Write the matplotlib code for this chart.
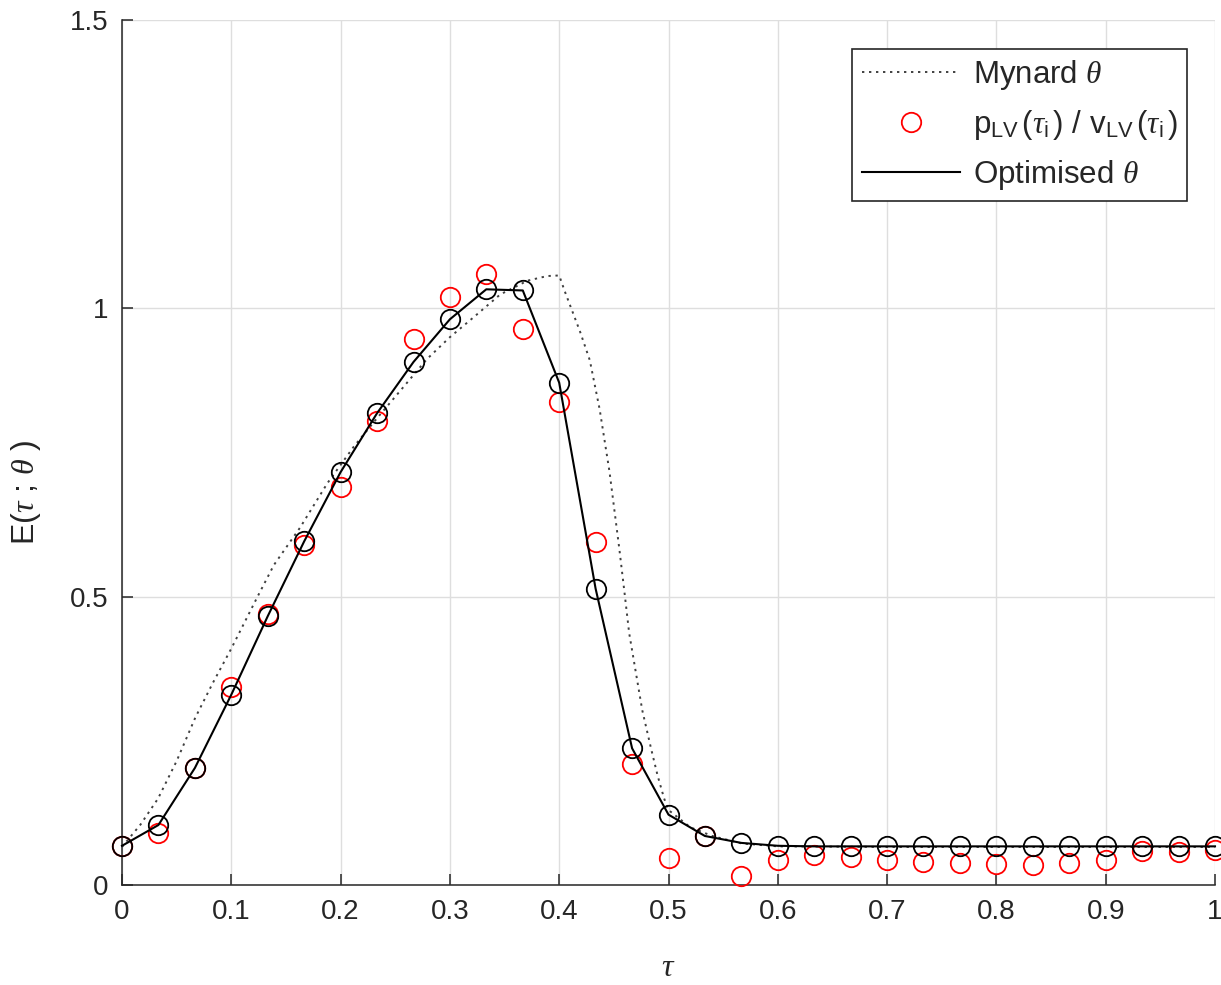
import matplotlib
matplotlib.use("Agg")
import matplotlib.pyplot as plt

plt.rcParams['font.family'] = ['Liberation Sans', 'DejaVu Sans']
plt.rcParams['mathtext.fontset'] = 'custom'
plt.rcParams['mathtext.rm'] = 'Liberation Sans'
plt.rcParams['mathtext.it'] = 'Liberation Serif:italic'
plt.rcParams['mathtext.bf'] = 'Liberation Sans:bold'

# ---- data ----
tau_i = [0.0, 0.0333, 0.0667, 0.1, 0.1333, 0.1667, 0.2, 0.2333, 0.2667, 0.3,
         0.3333, 0.3667, 0.4, 0.4333, 0.4667, 0.5, 0.5333, 0.5667, 0.6, 0.6333,
         0.6667, 0.7, 0.7333, 0.7667, 0.8, 0.8333, 0.8667, 0.9, 0.9333, 0.9667, 1.0]

optimised = [0.068, 0.104, 0.203, 0.330, 0.466, 0.596, 0.716, 0.818, 0.907, 0.981,
             1.033, 1.031, 0.871, 0.514, 0.237, 0.122, 0.085, 0.073, 0.068, 0.067,
             0.067, 0.067, 0.067, 0.067, 0.067, 0.067, 0.067, 0.067, 0.067, 0.067, 0.067]

p_over_v = [0.068, 0.090, 0.203, 0.344, 0.470, 0.589, 0.690, 0.805, 0.946, 1.020,
            1.059, 0.964, 0.838, 0.595, 0.210, 0.047, 0.085, 0.016, 0.043, 0.052,
            0.049, 0.043, 0.040, 0.038, 0.036, 0.035, 0.038, 0.043, 0.059, 0.058, 0.061]

mynard_tau = [0.0, 0.017, 0.033, 0.05, 0.067, 0.083, 0.1, 0.124, 0.139, 0.163,
              0.188, 0.212, 0.234, 0.255, 0.279, 0.3, 0.322, 0.346, 0.371, 0.389,
              0.4, 0.405, 0.412, 0.419, 0.428, 0.437, 0.446, 0.455, 0.46, 0.464,
              0.47, 0.476, 0.484, 0.49, 0.496, 0.5, 0.52, 0.54, 0.567, 0.6,
              0.7, 0.8, 0.9, 1.0]
mynard_val = [0.066, 0.105, 0.150, 0.215, 0.290, 0.350, 0.410, 0.500, 0.555, 0.620,
              0.697, 0.760, 0.811, 0.858, 0.912, 0.950, 0.985, 1.024, 1.048, 1.056,
              1.057, 1.030, 0.995, 0.960, 0.910, 0.825, 0.717, 0.583, 0.503, 0.437,
              0.370, 0.303, 0.237, 0.190, 0.150, 0.130, 0.100, 0.085, 0.072, 0.067,
              0.066, 0.066, 0.066, 0.066]

x_ticks = [0, 0.1, 0.2, 0.3, 0.4, 0.5, 0.6, 0.7, 0.8, 0.9, 1.0]
x_tick_labels = ['0', '0.1', '0.2', '0.3', '0.4', '0.5', '0.6', '0.7', '0.8', '0.9', '1']
y_ticks = [0, 0.5, 1.0, 1.5]
y_tick_labels = ['0', '0.5', '1', '1.5']

# ---- figure ----
fig = plt.figure(figsize=(12.21, 9.85), dpi=100)
ax = fig.add_axes([122/1221, 1 - 885/985, (1215 - 122)/1221, (885 - 20)/985])

axc = '#262626'
ax.plot(mynard_tau, mynard_val, color='#404040', linestyle=(0, (1.2, 2.4)),
        linewidth=1.4, label=r'Mynard $\theta$', zorder=3)
ax.plot(tau_i, p_over_v, linestyle='none', marker='o', markersize=14,
        markerfacecolor='none', markeredgecolor='#ff0000', markeredgewidth=1.3,
        label=r'p$_{\mathrm{LV}}\,$($\tau_{\mathrm{i}}\,$) / v$_{\mathrm{LV}}\,$($\tau_{\mathrm{i}}\,$)',
        zorder=4, clip_on=False)
ax.plot(tau_i, optimised, color='black', linewidth=1.5,
        label=r'Optimised $\theta$', zorder=5, clip_on=False)
ax.plot(tau_i, optimised, linestyle='none', marker='o', markersize=14,
        markerfacecolor='none', markeredgecolor='black', markeredgewidth=1.3,
        zorder=6, clip_on=False)

ax.set_xlim(0, 1)
ax.set_ylim(0, 1.5)
ax.set_xticks(x_ticks)
ax.set_xticklabels(x_tick_labels)
ax.set_yticks(y_ticks)
ax.set_yticklabels(y_tick_labels)

ax.grid(True, color='#dedede', linewidth=1.0)
ax.set_axisbelow(True)
for s in ['top', 'right']:
    ax.spines[s].set_visible(False)
for s in ['left', 'bottom']:
    ax.spines[s].set_color(axc)
    ax.spines[s].set_linewidth(1.1)
ax.tick_params(direction='in', length=8, width=1.1, colors=axc,
               labelsize=20, pad=10)

ax.set_xlabel(r'$\tau$', fontsize=23, color=axc)
ax.xaxis.label.set_va('center')
ax.xaxis.set_label_coords(0.5, -(968 - 885) / 865)
ax.set_ylabel(r'E($\tau$ ; $\theta$ )', fontsize=23, color=axc)
ax.yaxis.label.set_va('center')
ax.yaxis.set_label_coords(-(122 - 26) / 1093, (885 - 492) / 865)

leg = ax.legend(loc='upper right', bbox_to_anchor=(1187/1221, 1 - 49/985),
                bbox_transform=fig.transFigure, fontsize=22.5,
                frameon=True, fancybox=False, framealpha=1, edgecolor=axc,
                handlelength=3.15, handletextpad=0.4, labelspacing=0.5,
                borderpad=0.3, borderaxespad=0)
leg.get_frame().set_linewidth(1.2)
for t in leg.get_texts():
    t.set_color(axc)

fig.savefig('out.png', dpi=100)
